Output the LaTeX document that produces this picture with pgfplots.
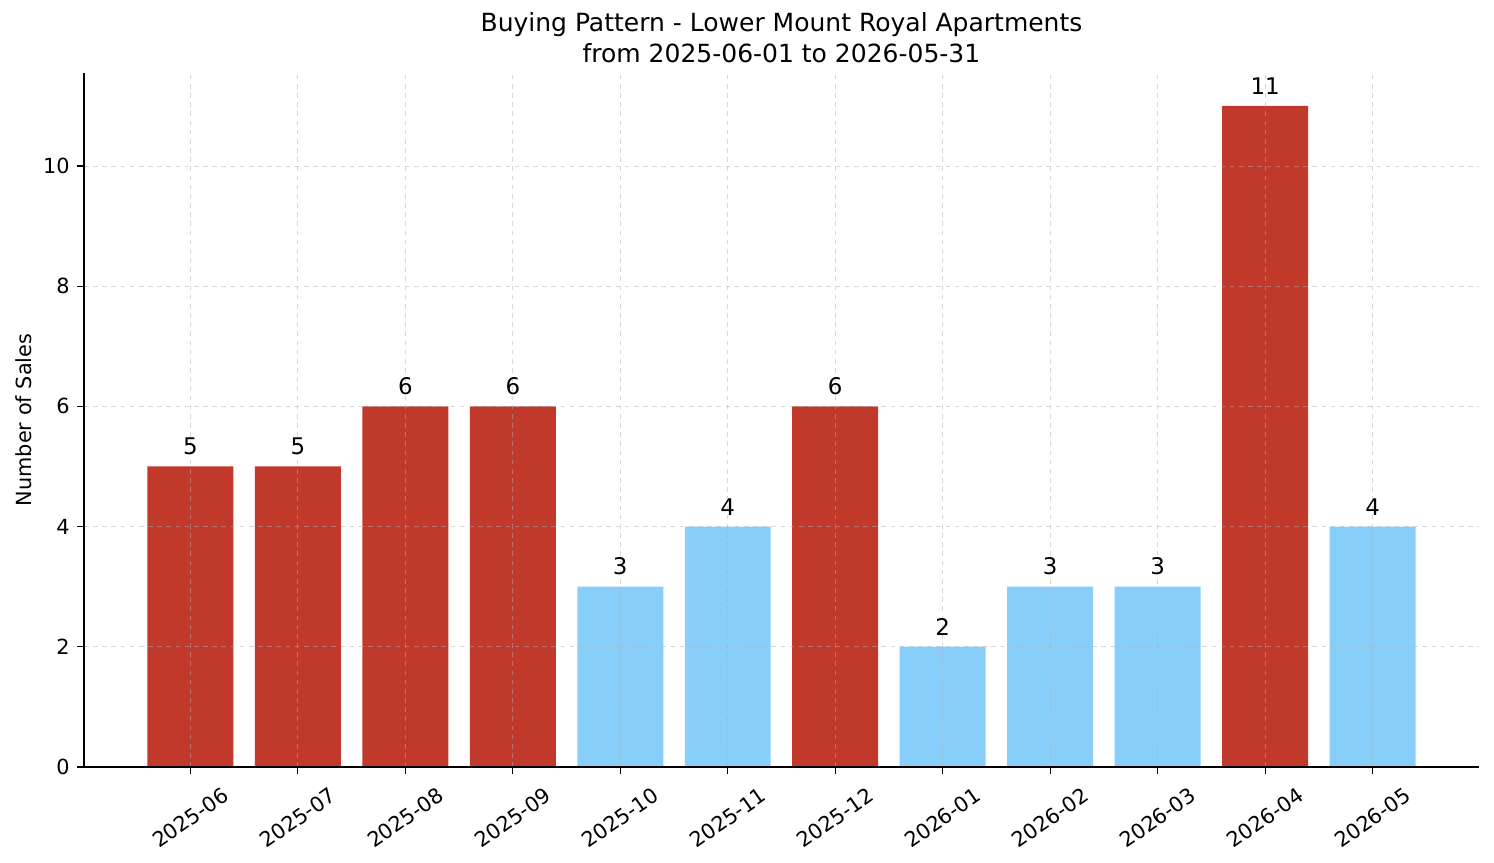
\documentclass[border=0pt]{standalone}
\usepackage{fontspec}
\setmainfont{DejaVu Sans}
\usepackage{pgfplots}
\pgfplotsset{compat=1.18}
\definecolor{barred}{HTML}{C0392B}
\definecolor{barblue}{HTML}{87CEFA}
\definecolor{gridgray}{HTML}{B0B0B0}
\begin{document}
\begin{tikzpicture}
\useasboundingbox (-40.3pt,-46.1pt) rectangle (676.8pt,368.1pt);
\begin{axis}[
  scale only axis,
  width=669.6pt, height=333.1pt,
  xmin=-0.99, xmax=11.99,
  ymin=0, ymax=11.55,
  axis on top,
  axis x line*=bottom, axis y line*=left,
  axis line style={line width=0.6pt},
  tick align=outside,
  major tick length=3.4pt,
  tick style={black, line width=0.6pt},
  xtick={0,1,2,3,4,5,6,7,8,9,10,11},
  xticklabels={2025-06,2025-07,2025-08,2025-09,2025-10,2025-11,2025-12,2026-01,2026-02,2026-03,2026-04,2026-05},
  ytick={0,2,4,6,8,10},
  /pgf/number format/assume math mode=true,
  ticklabel style={font=\fontsize{10pt}{12pt}\selectfont},
  xticklabel style={yshift=-21pt, rotate=35, anchor=center},
  grid=major,
  major grid style={gridgray, opacity=0.5, dash pattern=on 2.2pt off 2.2pt, line width=0.4pt},
  ylabel={Number of Sales},
  ylabel style={font=\fontsize{10pt}{12pt}\selectfont, at={(axis description cs:-0.043,0.5)}, anchor=center},
  title={Buying Pattern - Lower Mount Royal Apartments\\from 2025-06-01 to 2026-05-31},
  title style={font=\fontsize{12pt}{14.5pt}\selectfont, align=center, at={(axis description cs:0.5,1)}, anchor=south, yshift=-4.5pt},
  ybar, bar width=0.8, bar shift=0pt,
  nodes near coords,
  nodes near coords style={font=\fontsize{11pt}{13pt}\selectfont, black, yshift=2pt, /pgf/number format/assume math mode=true},
]
\addplot[fill=barred, draw=none] coordinates {(0,5) (1,5) (2,6) (3,6) (6,6) (10,11)};
\addplot[fill=barblue, draw=none] coordinates {(4,3) (5,4) (7,2) (8,3) (9,3) (11,4)};
\end{axis}
\end{tikzpicture}
\end{document}
